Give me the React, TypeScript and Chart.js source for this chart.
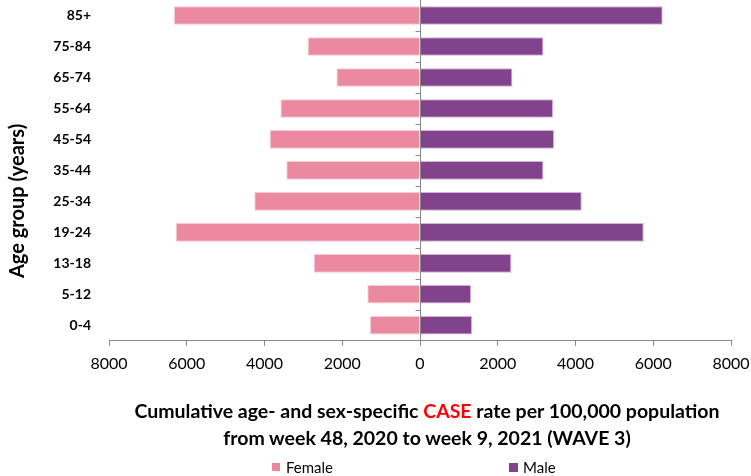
import { useEffect, useRef } from 'react';
import { Chart, registerables } from 'chart.js';

Chart.register(...registerables);

const categories = ['85+', '75-84', '65-74', '55-64', '45-54', '35-44', '25-34', '19-24', '13-18', '5-12', '0-4'];
const femaleRates = [6330, 2890, 2150, 3590, 3866, 3439, 4262, 6285, 2735, 1355, 1286];
const maleRates = [6243, 3174, 2377, 3421, 3447, 3174, 4160, 5755, 2350, 1312, 1338];
const xMin = -8000;
const xMax = 8000;
const xStep = 2000;

const FONT = 'Lato, "Open Sans", sans-serif';
const FEMALE_COLOR = '#EB89A0';
const FEMALE_EDGE = '#F7CBD6';
const MALE_COLOR = '#81438B';
const MALE_EDGE = '#D5AEDC';
const AXIS_COLOR = '#888888';

const zeroAxisPlugin = {
  id: 'zeroAxis',
  afterDatasetsDraw(chart: any) {
    const { ctx, chartArea, scales } = chart;
    const x0 = Math.round(scales.x.getPixelForValue(0)) + 0.5;
    ctx.save();
    ctx.strokeStyle = AXIS_COLOR;
    ctx.lineWidth = 1;
    ctx.beginPath();
    ctx.moveTo(x0, chartArea.top);
    ctx.lineTo(x0, chartArea.bottom);
    for (let i = 1; i < categories.length; i++) {
      const y = Math.round(scales.y.getPixelForValue(i - 0.5)) + 0.5;
      ctx.moveTo(x0 - 5, y);
      ctx.lineTo(x0, y);
    }
    ctx.stroke();
    ctx.restore();
  },
};

export default function App() {
  const ref = useRef<HTMLCanvasElement>(null);

  useEffect(() => {
    const chart = new Chart(ref.current as HTMLCanvasElement, {
      type: 'bar',
      data: {
        labels: categories,
        datasets: [
          {
            label: 'Female',
            data: femaleRates.map((v) => -v),
            backgroundColor: FEMALE_COLOR,
            borderColor: FEMALE_EDGE,
            borderWidth: 1,
            barPercentage: 0.6,
            categoryPercentage: 1,
          },
          {
            label: 'Male',
            data: maleRates,
            backgroundColor: MALE_COLOR,
            borderColor: MALE_EDGE,
            borderWidth: 1,
            barPercentage: 0.6,
            categoryPercentage: 1,
          },
        ],
      },
      options: {
        indexAxis: 'y',
        responsive: false,
        animation: false,
        layout: { padding: { left: 0, right: 20, top: 0, bottom: 95 } },
        plugins: {
          legend: { display: false },
          tooltip: { enabled: false },
        },
        scales: {
          x: {
            type: 'linear',
            stacked: true,
            min: xMin,
            max: xMax,
            ticks: {
              stepSize: xStep,
              callback: (v: any) => String(Math.abs(Number(v))),
              color: '#000',
              font: { family: FONT, size: 16 },
              padding: 8,
            },
            grid: { drawOnChartArea: false, drawTicks: true, tickLength: 5, color: AXIS_COLOR },
            border: { color: AXIS_COLOR },
            afterFit: (s: any) => {
              s.paddingLeft = 0;
              s.paddingRight = 0;
            },
          },
          y: {
            stacked: true,
            position: 'left',
            grid: { display: false, drawTicks: true, tickLength: 16 },
            border: { display: false },
            ticks: {
              color: '#000',
              font: { family: FONT, size: 14, weight: 'bold' },
              padding: 2,
            },
            afterFit: (s: any) => {
              s.width = 109;
              s.paddingTop = 0;
              s.paddingBottom = 0;
            },
          },
        } as any,
      },
      plugins: [zeroAxisPlugin],
    });
    return () => chart.destroy();
  }, []);

  return (
    <div style={{ position: 'absolute', left: 0, top: 0, width: 751, height: 476, background: '#fff' }}>
      <canvas ref={ref} width={751} height={476} style={{ display: 'block' }} />
      <div
        style={{
          position: 'absolute',
          left: -84.5,
          top: 189,
          width: 200,
          height: 24,
          lineHeight: '24px',
          textAlign: 'center',
          transform: 'rotate(-90deg)',
          fontFamily: FONT,
          fontWeight: 'bold',
          fontSize: 20,
          color: '#000',
          whiteSpace: 'nowrap',
        }}
      >
        Age group (years)
      </div>
      <div
        style={{
          position: 'absolute',
          left: 127,
          width: 600,
          top: 397,
          textAlign: 'center',
          fontFamily: FONT,
          fontWeight: 'bold',
          fontSize: 19.5,
          lineHeight: '27px',
          color: '#000',
          whiteSpace: 'nowrap',
        }}
      >
        Cumulative age- and sex-specific <span style={{ color: '#FF0000' }}>CASE</span> rate per 100,000 population
        <br />
        from week 48, 2020 to week 9, 2021 (WAVE 3)
      </div>
      <div style={{ position: 'absolute', left: 272, top: 457, height: 20, display: 'flex', alignItems: 'center', fontFamily: FONT, fontSize: 15, color: '#000' }}>
        <span style={{ width: 8, height: 8, background: FEMALE_COLOR, display: 'inline-block', marginRight: 6 }} />
        Female
      </div>
      <div style={{ position: 'absolute', left: 509, top: 457, height: 20, display: 'flex', alignItems: 'center', fontFamily: FONT, fontSize: 15, color: '#000' }}>
        <span style={{ width: 9, height: 9, background: MALE_COLOR, display: 'inline-block', marginRight: 5 }} />
        Male
      </div>
    </div>
  );
}
